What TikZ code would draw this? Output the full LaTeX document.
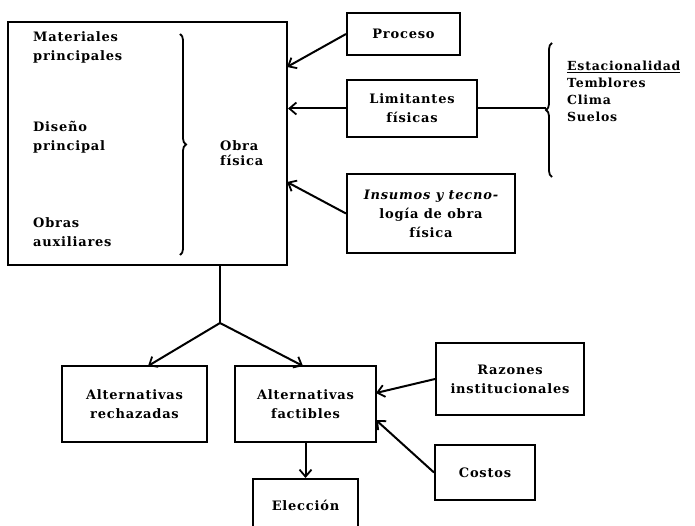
\documentclass[tikz,border=0pt]{standalone}
\usepackage{fontspec}
\setmainfont{DejaVu Serif}[LetterSpace=6]
\usetikzlibrary{arrows.meta,decorations.pathreplacing}
\newcommand\dgfont{\fontsize{13}{19}\selectfont\bfseries}
\begin{document}
\begin{tikzpicture}[x=1pt,y=-1pt,
  box/.style={draw,line width=2pt,inner sep=0pt,align=center,font=\dgfont},
  lbl/.style={inner sep=0pt,align=left,font=\dgfont},
  conn/.style={line width=2pt,-{Straight Barb[length=7pt,width=12pt,line width=1.8pt]}},
  plain/.style={line width=2pt},
  brc/.style={line width=1.8pt,decorate,decoration={brace,amplitude=6pt}}]
\clip (0,0) rectangle (695,526);
% main block
\node[box,minimum width=279pt,minimum height=243pt] (main) at (147.5,143.5) {};
\node[lbl,anchor=west] (mat) at (33,47) {Materiales\\principales};
\node[lbl,anchor=west] (dis) at (33,137) {Diseño\\principal};
\node[lbl,anchor=west] (aux) at (33,232) {Obras\\auxiliares};
\node[lbl,anchor=west,font=\fontsize{13}{15}\selectfont\bfseries] (obra) at (220,153) {Obra\\física};
\coordinate (bt) at (180,34);
\coordinate (bb) at (180,255);
\draw[brc] (bt) -- (bb);
% inputs to the main block
\node[box,minimum width=113pt,minimum height=42pt] (proc) at (403.5,34) {Proceso};
\node[box,minimum width=130pt,minimum height=57pt] (lim) at (412,108.5) {Limitantes\\físicas};
\node[box,minimum width=168pt,minimum height=79pt] (ins) at (431,213.5) {\itshape Insumos y tecno-\\logía de obra\\física};
\coordinate (pin) at (287,67);
\coordinate (iin) at (287,182);
\draw[conn] (proc.west) -- (pin);
\draw[conn] (lim.west) -- (main.east |- lim.west);
\draw[conn] (ins.west) -- (iin);
% physical constraints
\coordinate (lt) at (552,43);
\coordinate (lb) at (552,177);
\draw[brc] (lb) -- (lt);
\coordinate (ltip) at (546,108.5);
\draw[plain] (lim.east) -- (ltip);
\node[lbl,anchor=north west,font=\fontsize{12.5}{17}\selectfont\bfseries] (est) at (567,61)
  {\underline{Estacionalidad}\\Temblores\\Clima\\Suelos};
% alternatives
\coordinate (j) at (220,323);
\node[box,minimum width=145pt,minimum height=76pt] (rech) at (134.5,404) {Alternativas\\rechazadas};
\node[box,minimum width=141pt,minimum height=76pt] (fact) at (305.5,404) {Alternativas\\factibles};
\node[box,minimum width=148pt,minimum height=72pt] (raz) at (510,379) {Razones\\institucionales};
\node[box,minimum width=100pt,minimum height=55pt] (cost) at (485,472.5) {Costos};
\node[box,minimum width=105pt,minimum height=66pt] (elec) at (305.5,512) {};
\node[lbl] (eleclbl) at (305.5,505) {Elección};
\coordinate (rin) at (148,366);
\coordinate (fin) at (303,366);
\coordinate (zin) at (376,393);
\coordinate (cin) at (376,420);
\draw[plain] (main.south -| j) -- (j);
\draw[conn] (j) -- (rin);
\draw[conn] (j) -- (fin);
\draw[conn] (fact.south) -- (elec.north);
\draw[conn] (raz.west) -- (zin);
\draw[conn] (cost.west) -- (cin);
\end{tikzpicture}
\end{document}
